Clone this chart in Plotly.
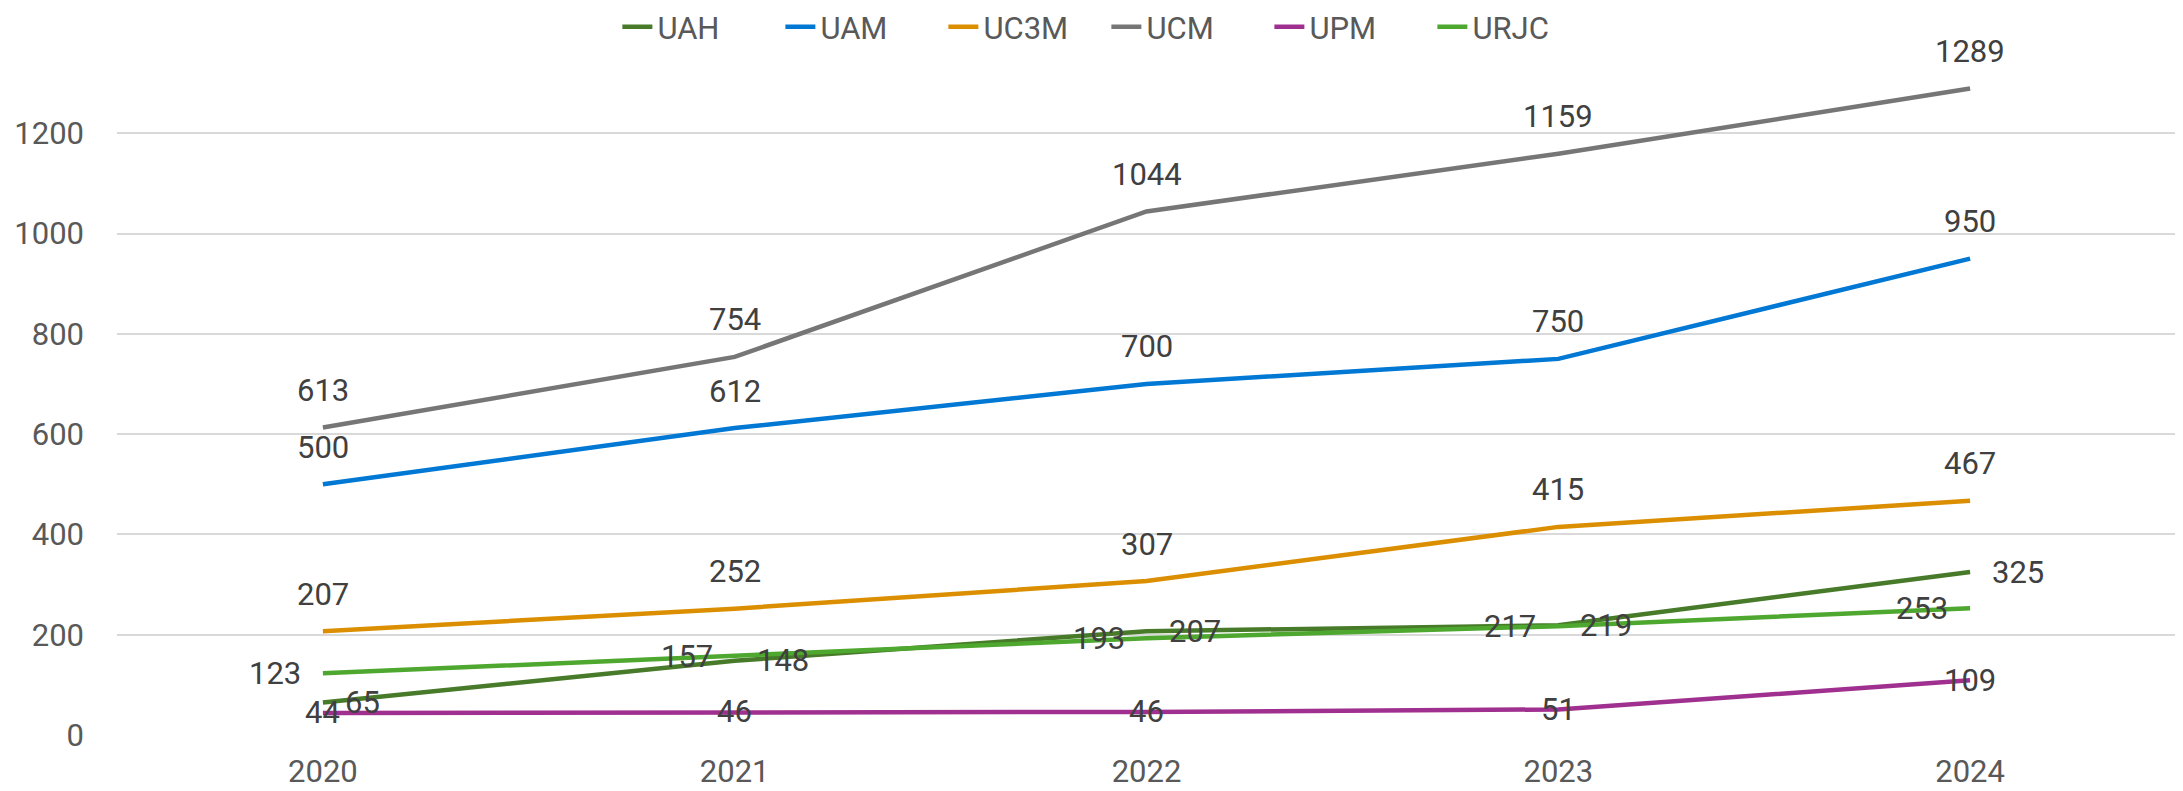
import plotly.graph_objects as go

years = ["2020", "2021", "2022", "2023", "2024"]
series_names = ["UAH", "UAM", "UC3M", "UCM", "UPM", "URJC"]
uah = [65, 148, 207, 219, 325]
uam = [500, 612, 700, 750, 950]
uc3m = [207, 252, 307, 415, 467]
ucm = [613, 754, 1044, 1159, 1289]
upm = [44, 46, 46, 51, 109]
urjc = [123, 157, 193, 217, 253]
y_ticks = [0, 200, 400, 600, 800, 1000, 1200]

values = [uah, uam, uc3m, ucm, upm, urjc]
colors = ["#477a29", "#0078d4", "#db8f00", "#767676", "#a0308f", "#4ea72e"]
label_pos = ["right", "top", "top", "top", "center", "left"]

FONT = "Roboto"
FS = 31
fig = go.Figure()
annotations = []
for name, vals, col, pos in zip(series_names, values, colors, label_pos):
    fig.add_trace(go.Scatter(
        x=years, y=vals, name=name, mode="lines",
        line=dict(color=col, width=4.5),
        hoverinfo="skip",
    ))
    for i, yv in enumerate(vals):
        a = dict(x=i, y=yv, xref="x", yref="y", text=str(yv), showarrow=False,
                 font=dict(family=FONT, size=FS, color="#404040"),
                 yanchor="middle")
        if pos == "right":
            a.update(xanchor="left", xshift=20)
        elif pos == "left":
            a.update(xanchor="right", xshift=-20)
        elif pos == "top":
            a.update(xanchor="center", yshift=37)
        else:
            a.update(xanchor="center")
        annotations.append(a)

fig.update_layout(
    width=2175, height=783,
    margin=dict(l=109, r=7, t=50, b=56, autoexpand=False),
    paper_bgcolor="white", plot_bgcolor="white",
    font=dict(family=FONT, size=FS, color="#595959"),
    showlegend=True,
    legend=dict(orientation="h", xref="container", yref="paper",
                x=0.505, xanchor="center", y=1.0857, yanchor="top",
                font=dict(family=FONT, size=FS, color="#595959"),
                itemwidth=30, tracegroupgap=0,
                entrywidth=118, entrywidthmode="pixels"),
    xaxis=dict(type="category", range=[-0.5, 4.5], showgrid=False,
               showline=False, ticks="", zeroline=False, automargin=False,
               ticklabelstandoff=15,
               tickfont=dict(family=FONT, size=FS, color="#595959")),
    yaxis=dict(range=[0, 1350], tickvals=y_ticks, showgrid=True,
               gridcolor="#d9d9d9", gridwidth=2, zeroline=False,
               showline=False, ticks="", ticklabelstandoff=32, automargin=False,
               tickfont=dict(family=FONT, size=FS, color="#595959")),
    annotations=annotations,
)
fig.write_html("out.html")
